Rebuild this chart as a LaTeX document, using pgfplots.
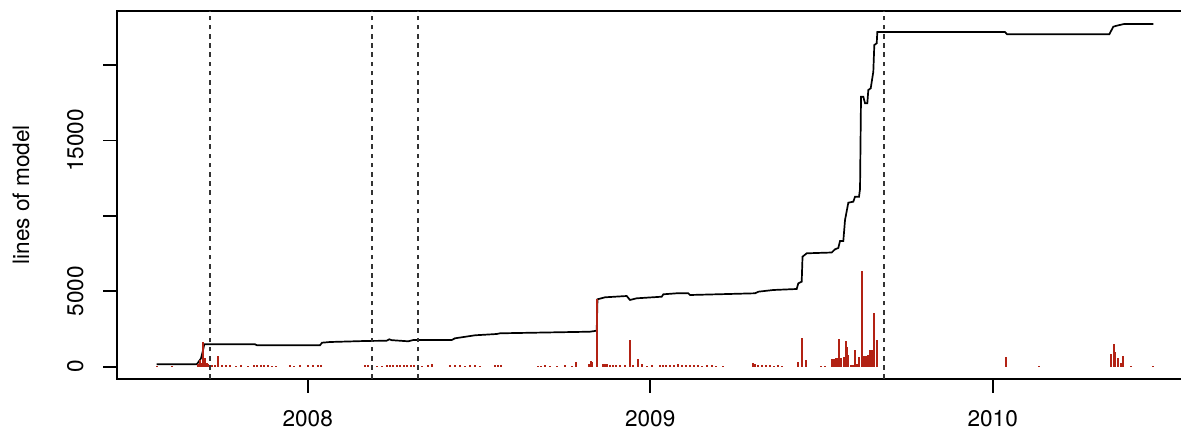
\documentclass[border=0pt]{standalone}
\usepackage{pgfplots}
\pgfplotsset{compat=1.18}
\usepackage{fontspec}
\setmainfont{TeX Gyre Heros}
\definecolor{barred}{RGB}{178,34,20}
\definecolor{vline}{RGB}{51,51,51}
\begin{document}
\fontsize{11.3}{13.5}\selectfont
\begin{tikzpicture}[x=1pt,y=1pt]
\useasboundingbox (-58.65,-26.5) rectangle (531.85,189.5);
\clip (-58.65,-26.5) rectangle (531.85,189.5);
\begin{axis}[
  at={(0,0)}, anchor=south west,
  scale only axis, width=537.85pt, height=184.15pt,
  xmin=2007.4441, xmax=2010.5848, ymin=-815, ymax=23600,
  scaled ticks=false,
  axis line style={line width=0.9pt},
  every tick/.style={black, line width=0.8pt},
  tick align=outside, major tick length=7pt,
  xtick pos=bottom, ytick pos=left,
  xtick={2008,2009,2010}, xticklabels={2008,2009,2010},
  ytick={0,5000,10000,15000,20000}, yticklabels={0,5000,,15000,},
  /pgf/number format/assume math mode=true,
  xticklabel shift=5pt, yticklabel shift=6pt,
  xticklabel style={font=\fontsize{11.3}{13.5}\selectfont},
  yticklabel style={font=\fontsize{11.3}{13.5}\selectfont, rotate=90, anchor=south},
  ylabel={lines of model},
  every axis y label/.style={at={(axis description cs:-0.0895,0.5)}, rotate=90, anchor=center, font=\fontsize{11.3}{13.5}\selectfont},
  clip=true,
]
% cumulative lines of model
\addplot[black, line width=0.85pt, mark=none] coordinates {
(2007.5591,159) (2007.6759,159) (2007.6806,292) (2007.6885,557) (2007.6934,994) (2007.6981,1485)
(2007.8461,1485) (2007.8520,1419) (2008.0359,1419) (2008.0418,1591) (2008.0650,1637)
(2008.1673,1704) (2008.2300,1720) (2008.2382,1816) (2008.2450,1760) (2008.2937,1684) (2008.3083,1770)
(2008.4204,1770) (2008.4301,1883) (2008.4885,2082) (2008.5518,2168) (2008.5615,2214)
(2008.8242,2320) (2008.8438,2386) (2008.8461,4468) (2008.8680,4600) (2008.9314,4687) (2008.9410,4422)
(2008.9606,4534) (2009.0336,4640) (2009.0383,4800) (2009.0774,4866) (2009.1112,4866) (2009.1162,4753)
(2009.3060,4866) (2009.3156,4972) (2009.3594,5085) (2009.4277,5151) (2009.4324,5529) (2009.4423,5635)
(2009.4447,7292) (2009.4569,7517) (2009.5299,7570) (2009.5396,7783) (2009.5492,7869) (2009.5542,8333)
(2009.5638,8333) (2009.5688,9725) (2009.5784,10872) (2009.5930,10938) (2009.5980,11270) (2009.6096,11270)
(2009.6126,11780) (2009.6155,17899) (2009.6222,17899) (2009.6272,17461) (2009.6339,17461) (2009.6368,18343)
(2009.6438,18456) (2009.6476,19006) (2009.6514,19556) (2009.6543,21326) (2009.6613,21438) (2009.6631,22188)
(2010.0359,22188) (2010.0418,22035) (2010.3404,22035) (2010.3521,22539) (2010.3620,22605) (2010.3834,22718)
(2010.4689,22718)
};
% red bars
\addplot[ycomb, barred, line width=1pt, mark=none] coordinates {
(2007.5609,60) (2007.6029,40)
(2007.6788,179) (2007.6855,444) (2007.6905,265) (2007.6952,1657) (2007.7001,557) (2007.7051,265) (2007.7098,179)
(2007.7206,120) (2007.7293,90) (2007.7390,709) (2007.7498,110) (2007.7615,80) (2007.7731,100) (2007.7907,70)
(2007.8053,90) (2007.8257,60) (2007.8432,110) (2007.8520,80) (2007.8636,130) (2007.8724,90) (2007.8841,100)
(2007.8958,70) (2007.9074,60) (2007.9483,80) (2007.9600,70) (2007.9775,90) (2008.0009,100) (2008.0155,80)
(2008.0301,140) (2008.0388,90)
(2008.1673,120) (2008.1761,80) (2008.1877,60) (2008.2023,70) (2008.2169,60) (2008.2315,100) (2008.2403,90)
(2008.2491,110) (2008.2607,100) (2008.2695,120) (2008.2812,90) (2008.2899,130) (2008.3016,100) (2008.3104,80)
(2008.3220,90) (2008.3337,70) (2008.3512,110) (2008.3629,200)
(2008.4155,90) (2008.4301,80) (2008.4447,110) (2008.4593,70) (2008.4739,90) (2008.4885,100) (2008.5031,60)
(2008.5469,90) (2008.5556,140) (2008.5644,80)
(2008.6724,70) (2008.6812,60) (2008.6929,80) (2008.7074,60) (2008.7279,70) (2008.7512,80) (2008.7717,70)
(2008.7834,331) (2008.8213,200) (2008.8263,378) (2008.8301,300) (2008.8455,4468)
(2008.8613,179) (2008.8680,150) (2008.8747,179) (2008.8826,120) (2008.8914,100) (2008.9002,130) (2008.9118,90)
(2008.9264,100) (2008.9410,1770) (2008.9498,80) (2008.9653,490) (2008.9752,179) (2008.9907,70) (2009.0053,80)
(2009.0286,100) (2009.0374,140) (2009.0461,90) (2009.0578,120) (2009.0695,100) (2009.0812,200) (2009.0928,90)
(2009.1045,110) (2009.1162,90) (2009.1279,80) (2009.1396,100) (2009.1512,70) (2009.1658,90) (2009.1804,80)
(2009.1921,60) (2009.2126,70)
(2009.2993,265) (2009.3060,150) (2009.3147,130) (2009.3264,90) (2009.3381,80) (2009.3498,100) (2009.3615,70)
(2009.3731,90) (2009.3848,60)
(2009.4324,331) (2009.4441,1883) (2009.4549,444) (2009.4978,60) (2009.5104,60)
(2009.5317,490) (2009.5367,490) (2009.5425,557) (2009.5463,557) (2009.5521,1816) (2009.5562,557)
(2009.5658,663) (2009.5708,1724) (2009.5737,1326) (2009.5766,776) (2009.5863,113) (2009.5912,113)
(2009.5971,1107) (2009.6029,179) (2009.6096,663) (2009.6175,6344) (2009.6242,709) (2009.6292,709)
(2009.6350,776) (2009.6426,1107) (2009.6476,1107) (2009.6543,3540) (2009.6631,1770)
(2010.0380,663) (2010.1352,50)
(2010.3454,842) (2010.3542,1485) (2010.3571,994) (2010.3650,557) (2010.3737,225) (2010.3813,729)
(2010.4038,60) (2010.4672,60)
};
% dashed reference lines
\addplot[vline, line width=0.8pt, dash pattern=on 2.3pt off 2.3pt] coordinates {(2007.7147,-815) (2007.7147,23600)};
\addplot[vline, line width=0.8pt, dash pattern=on 2.3pt off 2.3pt] coordinates {(2008.1886,-815) (2008.1886,23600)};
\addplot[vline, line width=0.8pt, dash pattern=on 2.3pt off 2.3pt] coordinates {(2008.3212,-815) (2008.3212,23600)};
\addplot[vline, line width=0.8pt, dash pattern=on 2.3pt off 2.3pt] coordinates {(2009.6826,-815) (2009.6826,23600)};
\end{axis}
\end{tikzpicture}
\end{document}
